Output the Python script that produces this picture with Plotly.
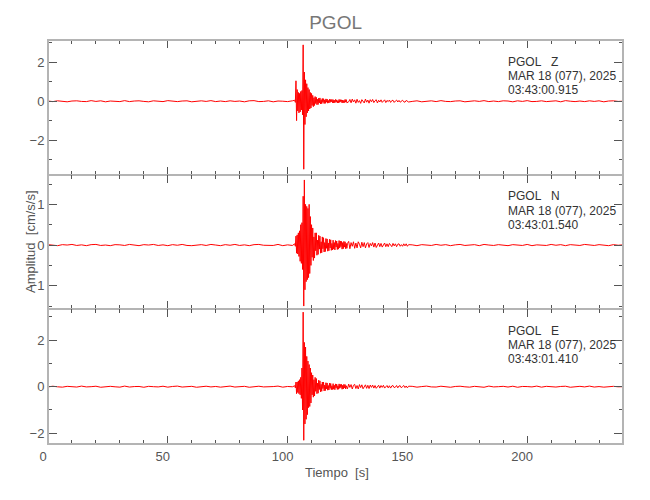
import numpy as np
import plotly.graph_objects as go
from plotly.subplots import make_subplots

# ---- sampling grid of the traces (s) ----
t_pre = np.arange(0, 104, 2.0)            # 0 .. 102
t_dense = 103.0 + 0.25 * np.arange(88)    # 103 .. 124.75
t_mid = 125.0 + 0.5 * np.arange(52)       # 125 .. 150.5
t_post = np.arange(152, 242, 2.0)         # 152 .. 240

# ---- Z component (cm/s/s) ----
z_pre = [0.01,-0.02,0.02,0.0,-0.03,0.01,0.02,-0.01,-0.02,0.03,
         -0.01,0.02,-0.03,0.01,0.0,-0.02,0.03,-0.02,0.01,0.02,
         -0.01,-0.03,0.02,0.01,-0.02,0.03,-0.01,-0.02,0.01,0.02,
         -0.03,0.0,0.02,-0.01,0.03,-0.02,0.01,-0.02,0.02,-0.01,
         0.01,-0.03,0.02,0.03,-0.02,-0.01,0.02,-0.03,0.01,0.0,
         -0.02,0.02]
z_dense = [0.05,-0.06,1.05,-1.0,0.6,-0.5,0.45,-0.6,0.4,-0.55,
           0.5,-0.45,0.55,-0.7,2.9,-3.5,1.5,-1.2,1.1,-0.8,
           0.9,-0.6,0.7,-0.5,0.6,-0.4,0.45,-0.35,0.4,-0.22,
           0.3,-0.28,0.18,-0.22,0.24,-0.12,0.2,-0.18,0.1,-0.17,
           0.16,-0.09,0.17,-0.14,0.08,-0.13,0.14,-0.06,0.13,-0.12,
           0.07,-0.11,0.12,-0.05,0.11,-0.1,0.04,-0.09,0.1,-0.06,
           0.09,-0.03,0.09,-0.08,
           0.08,-0.09,0.05,-0.08,0.09,-0.04,0.07,-0.09,0.03,-0.08,
           0.09,-0.06,0.08,-0.03,0.07,-0.09,0.06,-0.08,0.04,-0.07,
           0.09,-0.05,0.08,-0.08]
z_mid = [-0.07,-0.03,0.09,-0.08,0.11,-0.04,0.07,-0.1,
         0.1,-0.06,0.03,-0.11,0.08,0.02,-0.09,0.11,-0.05,0.06,
         -0.1,0.08,-0.03,0.09,-0.07,0.02,0.08,-0.09,0.05,-0.04,
         0.07,-0.06,0.02,0.07,-0.07,0.04,-0.02,0.06,-0.06,0.03,
         0.05,-0.06,0.01,0.06,-0.04,0.04,-0.05,0.02,0.05,-0.03,
         -0.05,0.04,0.02,-0.04]
z_post = [-0.01,0.02,-0.03,0.01,0.02,-0.02,0.03,-0.01,-0.02,0.01,
          0.02,-0.03,0.0,0.02,-0.01,0.03,-0.02,0.01,-0.02,0.02,
          0.01,-0.03,0.02,-0.01,0.03,-0.02,-0.01,0.02,-0.02,0.01,
          0.02,-0.03,0.03,0.0,-0.02,0.01,-0.02,0.02,-0.01,0.02,
          -0.03,0.01,0.02,-0.01,0.0]

# ---- N component ----
n_pre = [0.01,-0.005,-0.015,0.01,0.0,0.015,-0.01,0.005,-0.015,0.01,
         0.015,-0.01,0.0,-0.015,0.01,0.005,-0.01,0.015,-0.005,-0.015,
         0.01,0.0,0.015,-0.01,0.005,-0.015,0.01,-0.005,0.015,-0.01,
         -0.015,0.005,0.01,-0.01,0.015,0.0,-0.015,0.01,-0.005,0.015,
         -0.01,0.005,-0.015,0.01,0.015,-0.005,0.0,-0.01,0.015,-0.015,
         0.005,-0.01]
n_dense = [0.03,-0.03,0.22,-0.2,0.25,-0.22,0.3,-0.28,0.35,-0.4,
           0.5,-0.45,0.55,-0.6,1.2,-1.5,1.6,-1.1,1.0,-0.9,
           0.95,-0.85,0.9,-0.8,1.0,-0.7,0.7,-0.5,0.5,-0.3,
           0.42,-0.38,0.2,-0.32,0.3,-0.14,0.3,-0.25,0.12,-0.23,
           0.24,-0.1,0.22,-0.2,0.08,-0.19,0.2,-0.09,0.18,-0.17,
           0.06,-0.16,0.16,-0.08,0.15,-0.15,0.05,-0.14,0.14,-0.07,
           0.13,-0.13,0.04,-0.12,
           0.12,-0.1,0.06,-0.12,0.11,-0.05,0.1,-0.11,0.04,-0.1,
           0.11,-0.07,0.1,-0.04,0.09,-0.1,0.06,-0.09,0.09,-0.05,
           0.08,-0.09,0.04,-0.08]
n_mid = [0.04,0.09,-0.09,0.06,-0.03,0.08,-0.08,0.05,
         -0.07,0.08,0.02,-0.07,0.07,-0.04,0.06,-0.07,0.03,0.06,
         -0.06,0.04,-0.02,0.06,-0.05,0.05,-0.06,0.02,0.05,-0.04,
         0.04,-0.05,0.01,0.05,-0.04,0.03,-0.04,0.04,0.0,-0.04,
         0.04,-0.02,0.03,-0.04,0.02,0.03,-0.03,0.01,-0.03,0.03,
         -0.02,0.03,-0.03,0.01]
n_post = [0.005,-0.015,0.01,0.0,-0.01,0.015,-0.005,0.01,-0.015,0.005,
          0.015,-0.01,-0.005,0.01,-0.015,0.015,0.0,-0.01,0.01,-0.005,
          -0.015,0.01,0.005,-0.01,0.015,-0.015,0.005,0.0,-0.01,0.015,
          -0.005,0.01,-0.015,0.01,0.005,-0.01,0.015,-0.005,-0.01,0.01,
          0.0,-0.015,0.01,-0.005,0.005]

# ---- E component ----
e_pre = [-0.01,0.02,-0.005,-0.02,0.015,0.005,-0.015,0.025,-0.01,0.0,
         0.02,-0.025,0.01,0.015,-0.005,-0.02,0.025,-0.015,0.005,0.01,
         -0.025,0.015,0.0,-0.01,0.02,-0.02,0.01,0.025,-0.015,-0.005,
         0.015,-0.025,0.005,0.02,-0.01,0.01,-0.02,0.0,0.025,-0.015,
         -0.005,0.015,-0.025,0.01,0.02,-0.01,-0.015,0.005,0.025,-0.02,
         0.01,-0.005]
e_dense = [0.04,-0.05,0.2,-0.3,0.2,-0.25,0.25,-0.3,0.3,-0.35,
           0.4,-0.5,0.8,-1.0,3.2,-2.3,1.9,-1.6,1.7,-1.4,
           1.3,-1.2,1.1,-0.9,0.95,-0.85,0.8,-0.7,0.6,-0.35,
           0.5,-0.45,0.3,-0.4,0.4,-0.2,0.35,-0.3,0.15,-0.28,
           0.28,-0.12,0.25,-0.22,0.1,-0.2,0.2,-0.08,0.2,-0.18,
           0.07,-0.17,0.17,-0.09,0.16,-0.15,0.05,-0.14,0.15,-0.07,
           0.14,-0.13,0.04,-0.12,
           0.13,-0.11,0.06,-0.13,0.12,-0.05,0.11,-0.12,0.04,-0.11,
           0.12,-0.07,0.1,-0.04,0.1,-0.11,0.06,-0.1,0.1,-0.05,
           0.09,-0.1,0.04,-0.09]
e_mid = [-0.09,0.11,-0.03,0.09,-0.1,0.06,0.1,-0.08,
         0.05,-0.1,0.09,-0.04,0.08,-0.09,0.02,0.08,-0.07,0.06,
         -0.08,0.07,-0.03,0.07,-0.06,0.05,-0.07,0.02,0.06,-0.06,
         0.05,-0.03,0.06,-0.06,0.01,0.05,-0.05,0.04,-0.06,0.03,
         0.05,-0.04,-0.02,0.05,-0.05,0.03,0.04,-0.05,0.01,0.05,
         -0.04,0.03,-0.05,0.02]
e_post = [0.015,-0.02,0.005,0.025,-0.01,-0.015,0.02,0.0,-0.025,0.01,
          0.02,-0.005,-0.02,0.015,0.005,-0.025,0.025,-0.01,0.0,0.015,
          -0.015,0.02,-0.025,0.01,0.005,-0.01,0.025,-0.02,0.015,-0.005,
          -0.015,0.01,0.02,-0.025,0.0,0.015,-0.01,0.025,-0.015,0.005,
          -0.02,0.01,0.015,-0.005,0.0]

station = "PGOL"
components = ["Z", "N", "E"]
date_label = "MAR 18 (077), 2025"
start_times = ["03:43:00.915", "03:43:01.540", "03:43:01.410"]
y_ranges = [[-3.78, 3.15], [-1.58, 1.73], [-2.46, 3.32]]
y_dticks = [2, 1, 2]
y_minor = [1, 0.5, 1]

t_all = np.concatenate([t_pre, t_dense, t_mid, t_post])
traces = [z_pre + z_dense + z_mid + z_post,
          n_pre + n_dense + n_mid + n_post,
          e_pre + e_dense + e_mid + e_post]

FONT = "Liberation Sans, Arial, sans-serif"
FRAME = "#b4b4b4"
TICK = "#555555"

fig = make_subplots(rows=3, cols=1, shared_xaxes=True, vertical_spacing=0)

for i, y in enumerate(traces):
    fig.add_trace(go.Scatter(x=t_all, y=y, mode="lines",
                             line=dict(color="#ff0000", width=1),
                             showlegend=False, hoverinfo="skip"),
                  row=i + 1, col=1)
    fig.update_yaxes(range=y_ranges[i], dtick=y_dticks[i], tick0=0,
                     row=i + 1, col=1,
                     minor=dict(dtick=y_minor[i], ticklen=4, ticks="inside",
                                tickcolor=TICK, tickwidth=1))
    lines = [f"{station}   {components[i]}", date_label, start_times[i]]
    sfx = "" if i == 0 else str(i + 1)
    for txt, yy in zip(lines, [0.839, 0.733, 0.629]):
        fig.add_annotation(text=txt, xref=f"x{sfx} domain", yref=f"y{sfx} domain",
                           x=0.797, y=yy, xanchor="left", yanchor="middle",
                           showarrow=False,
                           font=dict(family=FONT, size=12, color="#333333"))

fig.update_yaxes(showline=True, linecolor=FRAME, linewidth=1, mirror="allticks",
                 ticks="inside", ticklen=9, tickcolor=TICK, tickwidth=1,
                 showgrid=False, zeroline=False,
                 tickfont=dict(family=FONT, size=13, color="#555555"))
fig.update_xaxes(range=[0, 240], dtick=50, tick0=0,
                 showline=True, linecolor=FRAME, linewidth=1, mirror="allticks",
                 ticks="inside", ticklen=8, tickcolor=TICK, tickwidth=1,
                 minor=dict(dtick=10, ticklen=4, ticks="inside",
                            tickcolor=TICK, tickwidth=1),
                 showgrid=False, zeroline=False, ticklabelshift=-5,
                 tickfont=dict(family=FONT, size=13, color="#555555"))

# outer frame
fig.add_shape(type="rect", xref="paper", yref="paper", x0=0, x1=1, y0=0, y1=1,
              line=dict(color=FRAME, width=2), fillcolor="rgba(0,0,0,0)", layer="above")

fig.add_annotation(text="Amplitud  [cm/s/s]", xref="paper", yref="paper",
                   x=0, y=0.5, xshift=-18, textangle=-90, showarrow=False,
                   xanchor="center", yanchor="middle",
                   font=dict(family=FONT, size=13, color="#555555"))
fig.add_annotation(text="Tiempo  [s]", xref="paper", yref="paper",
                   x=0.503, y=0, yshift=-28, showarrow=False,
                   xanchor="center", yanchor="middle",
                   font=dict(family=FONT, size=13, color="#555555"))

fig.update_layout(
    width=650, height=500,
    margin=dict(l=40, r=35, t=32, b=64),
    paper_bgcolor="white", plot_bgcolor="white",
    title=dict(text=station, x=0.504, xanchor="center", y=0.972, yanchor="middle",
               font=dict(family=FONT, size=19, color="#777777")),
)

fig.write_html("out.html")
